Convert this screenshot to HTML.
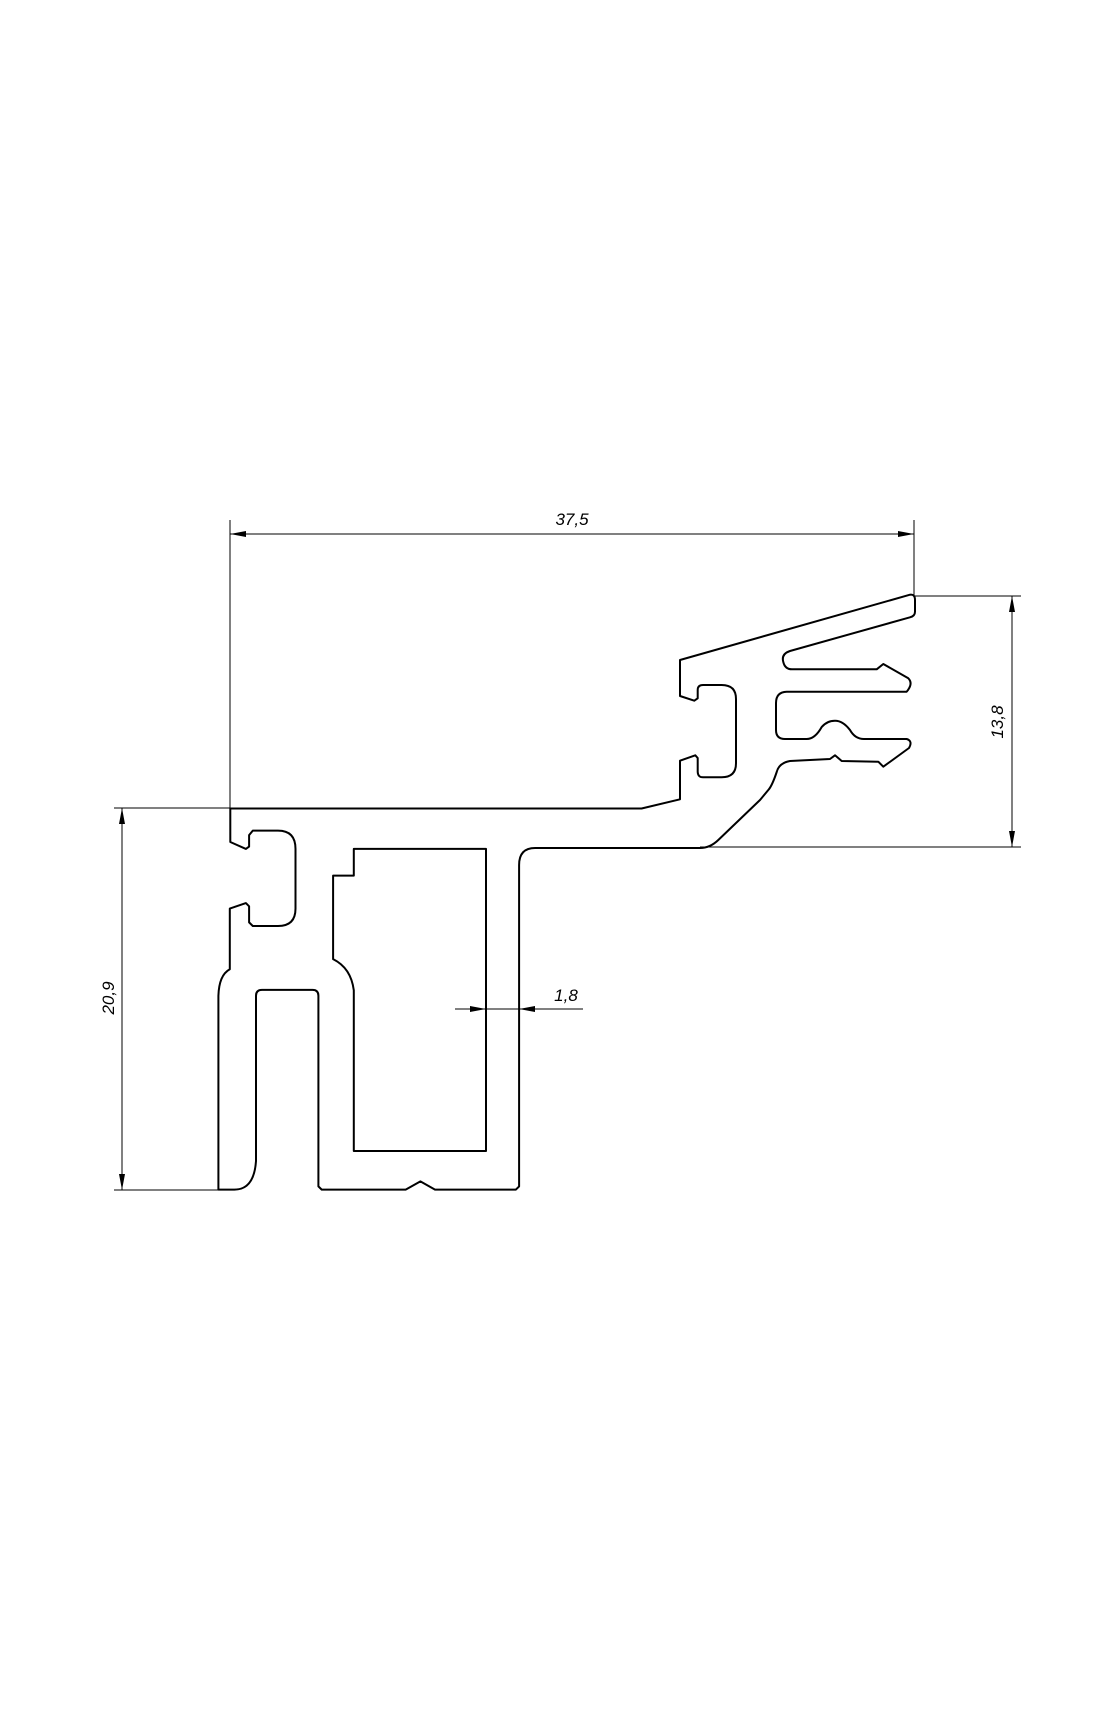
<!DOCTYPE html>
<html><head><meta charset="utf-8"><style>
html,body{margin:0;padding:0;background:#fff}
svg{display:block}
text{font-family:"Liberation Sans",sans-serif;font-size:17px;font-style:italic;fill:#000}
</style></head><body>
<svg width="1115" height="1723" viewBox="0 0 1115 1723" xmlns="http://www.w3.org/2000/svg">
<g fill="none" stroke="#000" stroke-width="1">
<!-- 37,5 -->
<line x1="230" y1="520" x2="230" y2="808"/>
<line x1="914" y1="520" x2="914" y2="596"/>
<line x1="230" y1="534" x2="914" y2="534"/>
<!-- 13,8 -->
<line x1="914" y1="596" x2="1021" y2="596"/>
<line x1="700" y1="847" x2="1021" y2="847"/>
<line x1="1012" y1="596" x2="1012" y2="847"/>
<!-- 20,9 -->
<line x1="114" y1="808" x2="230" y2="808"/>
<line x1="114" y1="1190" x2="220" y2="1190"/>
<line x1="122" y1="808" x2="122" y2="1190"/>
<!-- 1,8 -->
<line x1="455" y1="1009" x2="583" y2="1009"/>
</g>
<g fill="#000">
<polygon points="230,534 246,531 246,537"/>
<polygon points="914,534 898,531 898,537"/>
<polygon points="1012,596 1009,612 1015,612"/>
<polygon points="1012,847 1009,831 1015,831"/>
<polygon points="122,808 119,824 125,824"/>
<polygon points="122,1190 119,1174 125,1174"/>
<polygon points="486,1009 470,1006 470,1012"/>
<polygon points="519,1009 535,1006 535,1012"/>
</g>
<text x="572" y="525" text-anchor="middle">37,5</text>
<text x="566" y="1001" text-anchor="middle">1,8</text>
<text transform="translate(1003,722) rotate(-90)" text-anchor="middle">13,8</text>
<text transform="translate(114,998) rotate(-90)" text-anchor="middle">20,9</text>
<g fill="none" stroke="#000" stroke-width="2" stroke-linejoin="round">
<path d="M230.3,808.5 L641.6,808.5 L680,799.3 L680,760.7 L695.3,755.3 L697.7,758 L697.7,772 Q698,777.3 703,777.3 L721.7,777.3 Q736,777.3 736,763.3 L736,699 Q736,685 721.7,685 L703,685 Q697.7,685 697.7,690 L697.7,698.3 L694.3,700.7 L680,696 L680,660 L910,594.7 Q915,594 915,600 L915,611.7 Q915,616 910,617.3 L790,651 Q781,654 783.3,662 Q785,669.3 792,669.3 L876.7,669.3 L883.3,664 L908.3,678.3 Q913,683 908,690 L906.7,691.7 L786.7,691.7 Q776,692 776,703 L776,730 Q776,739 785,739 L806.7,739 Q815,739 821.7,727 Q827,720.7 835,720.7 Q843,720.7 850,730 Q855,739 864,739 L906.7,739 Q913,741 909,748 L883.3,766.7 L878.3,761.7 L841.7,761 L835,755.3 L830,759 L790,761 Q779,763 776.7,772 Q772,786 768.3,790 L760,800 L718.3,840 Q710,848 700,848 L535.1,848 Q519.1,848 519.1,865 L519.1,1186.4 L515.9,1189.6 L435,1189.6 L420.4,1181.4 L405.7,1189.6 L321.7,1189.6 L318.4,1186.4 L318.4,995.8 Q318.4,989.9 312.5,989.9 L262,989.9 Q256,989.9 256,995.8 L256,1161.1 Q254,1189.6 234.4,1189.6 L218.4,1189.6 L218.4,995.8 Q219,975 229.8,969.2 L229.8,908.6 L245.9,903.1 L249.1,906.3 L249.1,922.4 L252.8,926 L278,926 Q295.5,926 295.5,908.6 L295.5,848.9 Q295.5,830.6 278,830.6 L252.8,830.6 L249.1,835.1 L249.1,846.6 L245.9,848.9 L230.3,842 Z"/>
<path d="M353.8,848.9 L486,848.9 L486,1151 L353.8,1151 L353.8,990.3 Q351,968 333.1,959.1 L333.1,875.6 L353.8,875.6 Z"/>
</g>
</svg>
</body></html>
